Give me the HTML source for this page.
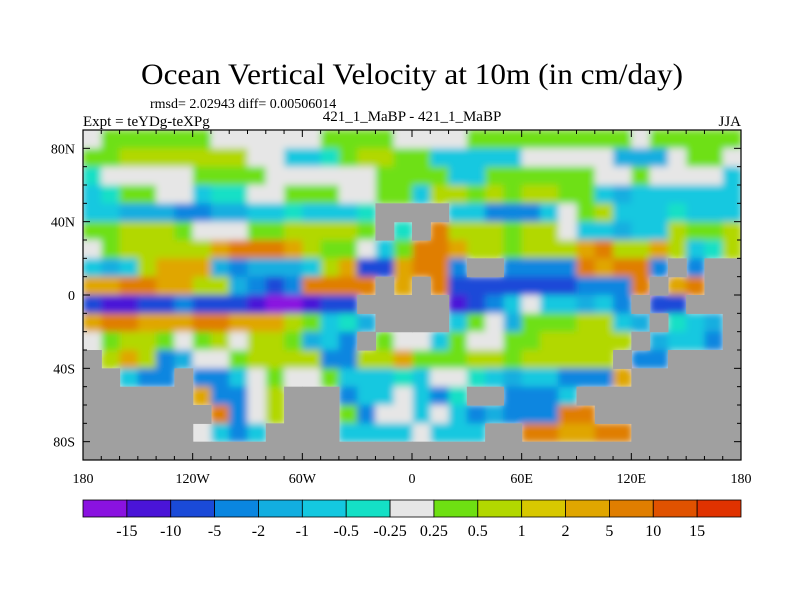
<!DOCTYPE html>
<html><head><meta charset="utf-8">
<style>
html,body{margin:0;padding:0;background:#fff;}
svg{display:block;font-family:"Liberation Serif",serif;}
</style></head>
<body>
<svg id="chart" width="800" height="600" viewBox="0 0 800 600" xmlns="http://www.w3.org/2000/svg">
<defs>
<filter id="soft" x="-5%" y="-5%" width="110%" height="110%"><feGaussianBlur stdDeviation="3.5"/></filter>
<clipPath id="plotclip"><rect x="83" y="130" width="658" height="330"/></clipPath>
</defs>
<text x="412" y="84" font-size="30" text-anchor="middle" textLength="542" lengthAdjust="spacingAndGlyphs">Ocean Vertical Velocity at 10m (in cm/day)</text>
<text x="150" y="108" font-size="14">rmsd= 2.02943 diff= 0.00506014</text>
<text x="83" y="126" font-size="15">Expt = teYDg-teXPg</text>
<text x="412" y="121" font-size="15" text-anchor="middle">421_1_MaBP - 421_1_MaBP</text>
<text x="741" y="126" font-size="15" text-anchor="end">JJA</text>
<g clip-path="url(#plotclip)">
<rect x="83" y="130" width="658" height="330" fill="#e6e6e6"/>
<g id="map" filter="url(#soft)"></g>
<g id="land"></g>
</g>
<g id="axes"></g>
<g id="cbar"></g>
</svg>
<script>
const levelColors = ["#8a12e0","#4a14d8","#1a4ad8","#0a86e0","#12aee0","#14c8e0","#14e0c6","#e6e6e6","#6ee012","#b2d800","#d8c800","#e0a600","#e07e00","#e05200","#e03200"];
const levelLabels = ["-15","-10","-5","-2","-1","-0.5","-0.25","0.25","0.5","1","2","5","10","15"];
const codeMap = {P:0,V:1,B:2,b:3,l:4,c:5,t:6,w:7,g:8,y:9,Y:10,o:11,O:12,r:13,R:14};
const landColor = "#a0a0a0";
// 10-degree cells, rows from 90N southward; left half 180W-0, right half 0-180E
const gridRowsWest = [
"wggggggwwwwwwggggw",
"ggyyyyyyywwcctgyyg",
"twwwwwggggwwwwwwgg",
"ctggwwcttwwgggwwgg",
"cclllbbllcctccct##",
"ggyyygwwwggyyyyg#t",
"wgyyyyyoOOOoyggwcg",
"clcyooolblllcyoBBo",
"ooOOooyylbBbOOOO#o",
"BVVBBbBBBVPPVBB###",
"oOOoooOOoooygctl##",
"wgyygwgywyyglcb#gw",
"#yoyblwwgyyyybbyyo",
"##cbb#bbcwgwwgccct",
"######obbwy###bccw",
"#######Obwy###gbww",
"######wcbc####cccc",
"##################"];
const gridRowsEast = [
"wwwgggggggggwggggg",
"gcccccwwwwwlllwggw",
"ggccggggggwwgwwwwc",
"cyygygyyggclcccccc",
"##ccbbbcwgyccctccc",
"#Oyyygyywcclccyggy",
"OOoyygyyyoOyyoyctyy",
"OOb##bbbbOoOOb#b##",
"#OBBBBBBBbbbO#oO##",
"##VBbcwcclcb#BB###",
"##cgwlgggyycl#tcl#",
"wcgwwggyyyyy#lccb#",
"gggyygyyyyy#bb####",
"cwwtclccbbbo######",
"cbt##bbbc#########",
"cwcblbbbOO########",
"wccc##OOooOO######",
"##################"];
const x0=83,x1=741,y0=130,y1=460;
const lonX = lon => x0 + (lon+180)/360*(x1-x0);
const latY = lat => y0 + (90-lat)/180*(y1-y0);
const NS="http://www.w3.org/2000/svg";
const map=document.getElementById('map');
const land=document.getElementById('land');
function addCell(lon,lat,ch){
  const r=document.createElementNS(NS,'rect');
  
  
  const xa=lonX(lon), xb=lonX(lon+10), ya=latY(lat), yb=latY(lat-10);
  r.setAttribute('x',xa.toFixed(2)); r.setAttribute('y',ya.toFixed(2));
  r.setAttribute('width',(xb-xa+0.6).toFixed(2)); r.setAttribute('height',(yb-ya+0.6).toFixed(2));
  if(ch==='#'){
    r.setAttribute('fill',landColor);
    land.appendChild(r);
  } else {
    r.setAttribute('fill',levelColors[codeMap[ch]]||levelColors[7]);
    map.appendChild(r);
  }
}
for(let i=0;i<18;i++){
  const w=(gridRowsWest[i]+"w".repeat(18)).slice(0,18);
  const e=(gridRowsEast[i]+"w".repeat(18)).slice(0,18);
  for(let j=0;j<18;j++){
    addCell(-180+j*10, 90-i*10, w[j]);
    addCell(j*10, 90-i*10, e[j]);
  }
}
const ax=document.getElementById('axes');
function line(x1_,y1_,x2_,y2_,name){
  const l=document.createElementNS(NS,'line');
  
  
  l.setAttribute('x1',x1_);l.setAttribute('y1',y1_);l.setAttribute('x2',x2_);l.setAttribute('y2',y2_);
  l.setAttribute('stroke','#000');l.setAttribute('stroke-width','1');
  ax.appendChild(l);
}
function text(x,y,s,anchor,name,size){
  const t=document.createElementNS(NS,'text');
  
  
  t.setAttribute('x',x);t.setAttribute('y',y);t.setAttribute('text-anchor',anchor);
  t.setAttribute('font-size',size);t.textContent=s;
  ax.appendChild(t);
}
const frame=document.createElementNS(NS,'rect');


frame.setAttribute('x',x0);frame.setAttribute('y',y0);frame.setAttribute('width',x1-x0);frame.setAttribute('height',y1-y0);
frame.setAttribute('fill','none');frame.setAttribute('stroke','#000');frame.setAttribute('stroke-width','1.2');
ax.appendChild(frame);
const xTickLabels=["180","120W","60W","0","60E","120E","180"];
for(let lon=-180;lon<=180;lon+=10){
  const x=lonX(lon), big=lon%60===0?7:4;
  line(x,y1,x,y1-big,'x-tick');line(x,y0,x,y0+big,'x-tick-top');
}
xTickLabels.forEach((s,i)=>text(lonX(-180+i*60),483,s,'middle','x-tick-label',14));
const yTickLabels=["80N","40N","0","40S","80S"];
for(let lat=-90;lat<=90;lat+=10){
  const y=latY(lat), big=lat%40===0&&Math.abs(lat)<=80?7:4;
  line(x0,y,x0+big,y,'y-tick');line(x1,y,x1-big,y,'y-tick-right');
}
yTickLabels.forEach((s,i)=>text(75,latY(80-i*40)+5,s,'end','y-tick-label',14));
const cb=document.getElementById('cbar');
const cbY=500,cbH=17,bw=(x1-x0)/levelColors.length;
levelColors.forEach((c,i)=>{
  const r=document.createElementNS(NS,'rect');
  
  
  r.setAttribute('x',x0+i*bw);r.setAttribute('y',cbY);r.setAttribute('width',bw);r.setAttribute('height',cbH);
  r.setAttribute('fill',c);r.setAttribute('stroke','#000');r.setAttribute('stroke-width','0.8');
  cb.appendChild(r);
});
levelLabels.forEach((s,i)=>{
  const t=document.createElementNS(NS,'text');
  
  
  t.setAttribute('x',x0+(i+1)*bw);t.setAttribute('y',536);t.setAttribute('text-anchor','middle');
  t.setAttribute('font-size','16');t.textContent=s;
  cb.appendChild(t);
});
</script>
</body></html>
